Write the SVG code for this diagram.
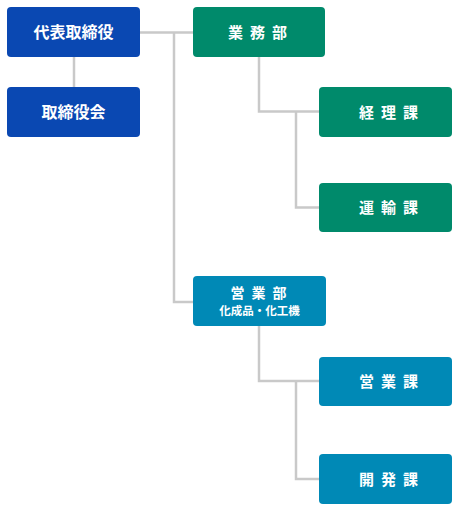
<svg xmlns="http://www.w3.org/2000/svg" width="460" height="512" viewBox="0 0 460 512">
<style>
.c{fill:none;stroke:#c9c9c9;stroke-width:2.5}
.b{fill:#0a48b2}
.g{fill:#008a6b}
.t{fill:#0089b6}
text{font-family:"Noto Sans CJK JP","Noto Sans",sans-serif;font-weight:bold;fill:#fff;text-anchor:middle}
.l{font-size:16px}
.s{font-size:15px;letter-spacing:7px}
.s2{font-size:14px;letter-spacing:7px}
.m{font-size:11.5px}
</style>
<rect width="460" height="512" fill="#fff"/>
<g id="connectors">
<path class="c" d="M140 32.5H193M174 32.5V302H193"/>
<path class="c" d="M74 57V87"/>
<path class="c" d="M259 57V111.5H319M296 111.5V207.5H319"/>
<path class="c" d="M259 326V381H319M296 381V479H319"/>
</g>
<g id="n1"><rect class="b" x="7" y="7" width="133" height="50" rx="4"/><text class="l" x="73.5" y="37.5">代表取締役</text></g>
<g id="n2"><rect class="b" x="7" y="87" width="133" height="50" rx="4"/><text class="l" x="73.5" y="117.5">取締役会</text></g>
<g id="n3"><rect class="g" x="193" y="7" width="132" height="50" rx="4"/><text class="s" x="261" y="37.5">業務部</text></g>
<g id="n4"><rect class="g" x="319" y="87" width="133" height="50" rx="4"/><text class="s" x="392" y="117.5">経理課</text></g>
<g id="n5"><rect class="g" x="319" y="183" width="133" height="49" rx="4"/><text class="s" x="392" y="213">運輸課</text></g>
<g id="n6"><rect class="t" x="193" y="276" width="133" height="50" rx="4"/><text class="s2" x="262" y="297.5">営業部</text><text class="m" x="259.5" y="315">化成品・化工機</text></g>
<g id="n7"><rect class="t" x="319" y="357" width="133" height="49" rx="4"/><text class="s" x="392" y="387">営業課</text></g>
<g id="n8"><rect class="t" x="319" y="454" width="133" height="50" rx="4"/><text class="s" x="392" y="484.5">開発課</text></g>
</svg>
